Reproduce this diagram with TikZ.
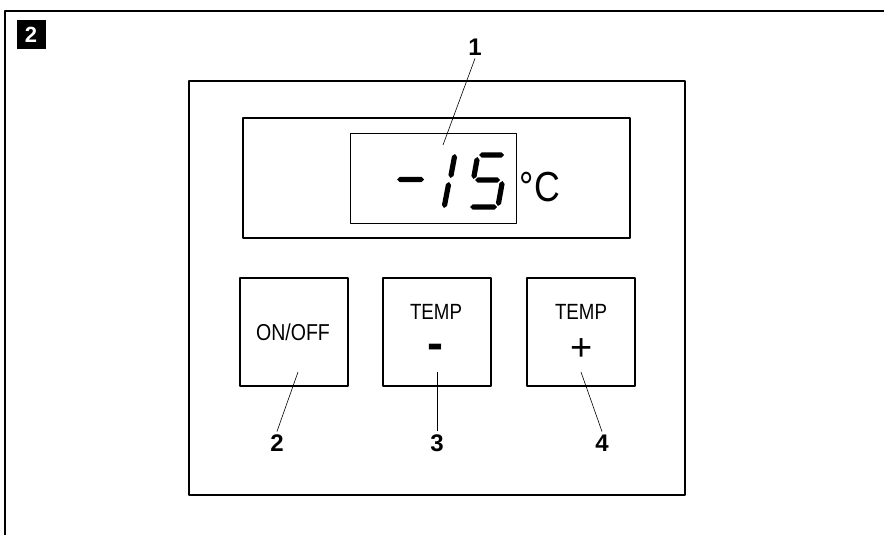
\documentclass[tikz,border=0pt]{standalone}
\usepackage{fontspec}
\setmainfont{Liberation Sans}
\newfontfamily\narrowsans[FakeStretch=0.85]{Liberation Sans}
\usetikzlibrary{calc}
\tikzset{
  frame/.style={draw, line width=1.8pt},
  panelbox/.style={draw, line width=1.3pt, inner sep=0pt, outer sep=0pt},
  lcdbox/.style={draw, line width=0.8pt, inner sep=0pt, outer sep=0pt},
  keybox/.style={panelbox, minimum width=108pt, minimum height=108pt},
  keytext/.style={inner sep=0pt, font=\narrowsans\fontsize{22}{22}\selectfont},
  callout/.style={inner sep=3pt, font=\bfseries\fontsize{24}{24}\selectfont},
  leader/.style={line width=0.6pt},
  every picture/.style={line join=round}
}
% one bar of the seven-segment display, tip to tip
\newcommand\lcdseg[2]{%
  \fill #1 -- ($#1!2.6pt!#2!2.6pt!90:#2$) -- ($#2!2.6pt!#1!2.6pt!-90:#1$)
    -- #2 -- ($#2!2.6pt!#1!2.6pt!90:#1$) -- ($#1!2.6pt!#2!2.6pt!-90:#2$) -- cycle;}

\begin{document}
\begin{tikzpicture}[x=1pt,y=-1pt]
  \useasboundingbox (0,0) rectangle (884,535);
  % page frame and figure number
  \draw[frame] (5,540) |- (890,11);
  \node[fill=black, text=white, minimum size=29pt, inner sep=0pt,
        font=\bfseries\fontsize{22}{22}\selectfont] (fignum) at (31,35) {2};

  % control panel
  \node[panelbox, minimum width=496pt, minimum height=414pt] (panel) at (437,288) {};
  \node[panelbox, minimum width=387pt, minimum height=120pt] (display) at (436.5,178) {};
  \node[lcdbox, minimum width=166pt, minimum height=90pt] (lcd) at (433,178) {};

  % digits -15
  \lcdseg{(397,179.5)}{(424,179.5)}
  \lcdseg{(455,154)}{(450.5,178)}
  \lcdseg{(449,182)}{(444,208)}
  \lcdseg{(479,155)}{(504,155)}
  \lcdseg{(477.5,157)}{(473.5,179)}
  \lcdseg{(475,180)}{(500,180)}
  \lcdseg{(502.5,181)}{(498,206)}
  \lcdseg{(470,207)}{(497,207)}
  \node[inner sep=0pt, font=\narrowsans\fontsize{42}{42}\selectfont] (unit) at (540,187) {°C};

  % keys
  \node[keybox] (keyonoff) at (294,332) {};
  \node[keybox] (keyminus) at (437,332) {};
  \node[keybox] (keyplus) at (581,332) {};
  \node[keytext, font=\narrowsans\fontsize{23}{23}\selectfont] (onoff) at (293,332) {ON/OFF};
  \node[keytext] (tempminus) at (436,312) {TEMP};
  \node[keytext] (tempplus) at (581,312) {TEMP};
  \node[inner sep=0pt, anchor=base, font=\bfseries\fontsize{48}{48}\selectfont] (minus) at (435,359) {-};
  \node[inner sep=0pt, anchor=base, font=\fontsize{38}{38}\selectfont] (plus) at (582,360) {+};

  % callouts
  \node[callout] (c1) at (475,47) {1};
  \node[callout] (c2) at (277,443) {2};
  \node[callout] (c3) at (437,443) {3};
  \node[callout] (c4) at (602,443) {4};
  \coordinate (t1) at (443,145);
  \coordinate (t2) at (298,372);
  \coordinate (t3) at (437,372);
  \coordinate (t4) at (581,372);
  \draw[leader] (c1.south) -- (t1);
  \draw[leader] (c2.north) -- (t2);
  \draw[leader] (c3.north) -- (t3);
  \draw[leader] (c4.north) -- (t4);
\end{tikzpicture}
\end{document}
